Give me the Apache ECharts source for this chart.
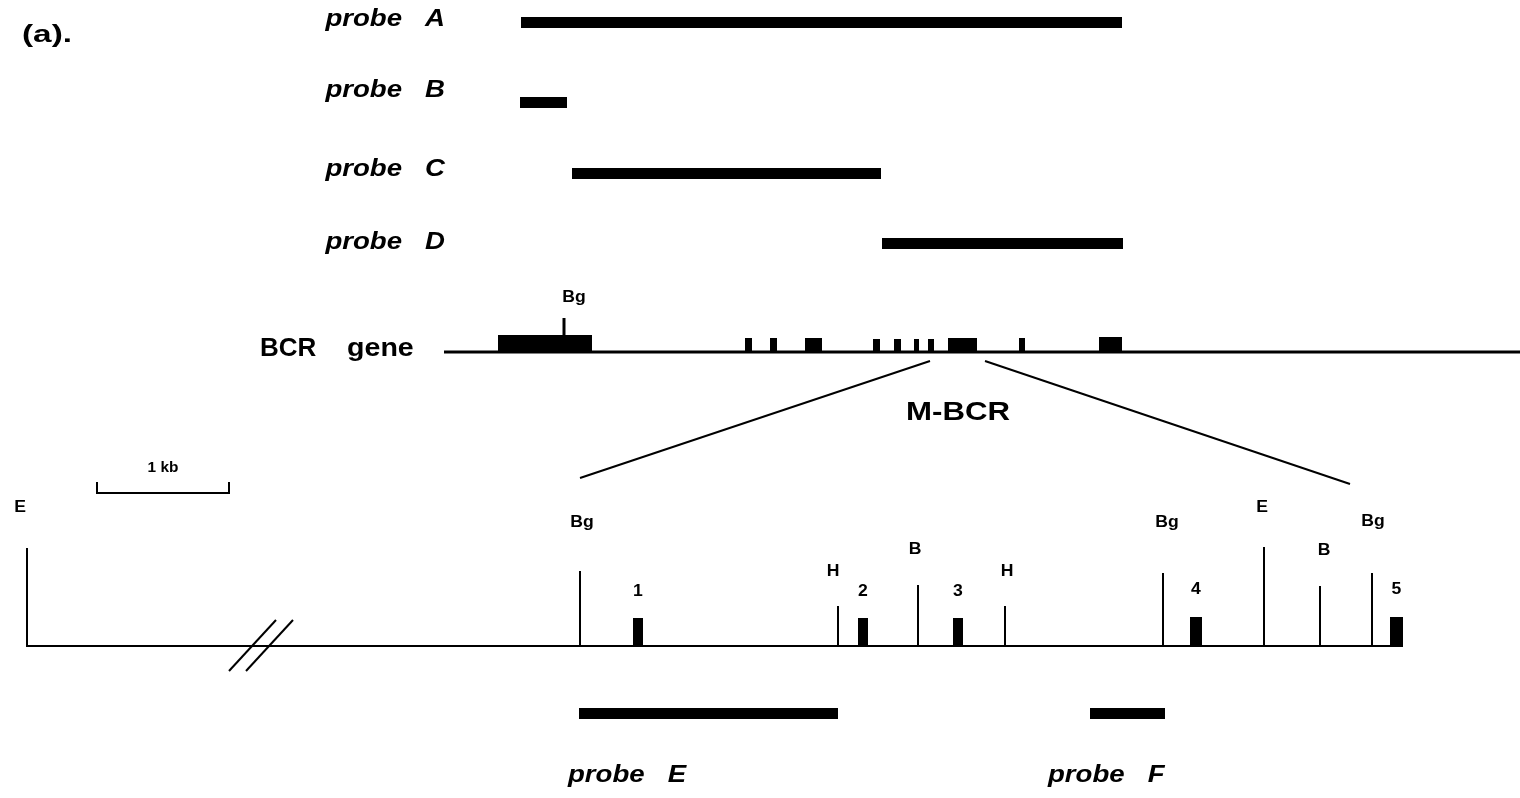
<!DOCTYPE html>
<html>
<head>
<meta charset="utf-8">
<script src="https://cdn.jsdelivr.net/npm/echarts@6.0.0/dist/echarts.min.js"></script>
<style>
  html, body { margin: 0; padding: 0; background: #fff; }
  #chart { width: 1520px; height: 798px; }
</style>
</head>
<body>
<div id="chart"></div>
<script>
// map positions (x along the map, y = row)
const probeNames = ['probe   A', 'probe   B', 'probe   C', 'probe   D', 'probe   E', 'probe   F'];
const probeStart = [521, 520, 572, 882, 579, 1090];
const probeEnd = [1122, 567, 881, 1123, 838, 1165];
const probeRow = [22, 102, 173, 243, 713, 713];
const probeLabelX = [445, 445, 445, 445, 568, 1048];
const probeLabelY = [20, 91, 170, 243, 776, 776];
const probeLabelAlign = ['right', 'right', 'right', 'right', 'left', 'left'];

// BCR gene exons (upper map)
const geneExonStart = [498, 745, 770, 805, 873, 894, 914, 928, 948, 1019, 1099];
const geneExonEnd = [592, 752, 777, 822, 880, 901, 919, 934, 977, 1025, 1122];
const geneExonTop = [335, 338, 338, 338, 339, 339, 339, 339, 338, 338, 337];
const geneLineY = 352;

// M-BCR restriction sites (lower map)
const siteNames = ['E', 'Bg', 'H', 'B', 'H', 'Bg', 'E', 'B', 'Bg'];
const sitePos = [27, 580, 838, 918, 1005, 1163, 1264, 1320, 1372];
const siteTop = [548, 571, 606, 585, 606, 573, 547, 586, 573];
const siteLabelX = [20, 582, 833, 915, 1007, 1167, 1262, 1324, 1373];
const siteLabelY = [508, 523, 572, 550, 572, 523, 508, 551, 522];

// M-BCR exons 1-5
const exonNames = ['1', '2', '3', '4', '5'];
const exonStart = [633, 858, 953, 1190, 1390];
const exonEnd = [643, 868, 963, 1202, 1403];
const exonTop = [618, 618, 618, 617, 617];
const exonLabelY = [592, 592, 592, 590, 590];
const mapLineY = 646;

// line work: [x1, y1, x2, y2, width]
const segments = [
  [444, geneLineY, 1520, geneLineY, 3],
  [564, 318, 564, 336, 3],
  [930, 361, 580, 478, 2],
  [985, 361, 1350, 484, 2],
  [26, mapLineY, 1403, mapLineY, 2],
  [229, 671, 276, 620, 2],
  [246, 671, 293, 620, 2],
  [97, 493, 229, 493, 2],
  [97, 482, 97, 494, 2],
  [229, 482, 229, 494, 2]
];

// free text
const textLabels = ['(a).', 'BCR', 'gene', 'M-BCR', '1 kb', 'Bg'];
const textX = [22, 260, 347, 958, 163, 574];
const textY = [36, 349, 349, 413, 468, 298];
const textSize = [23, 26, 26, 26, 14, 16];
const textAlign = ['left', 'left', 'left', 'center', 'center', 'center'];
const textScale = [1.45, 1.0, 1.1, 1.2, 1.1, 1.1];

const FONT = '"Liberation Sans", Arial, Helvetica, sans-serif';
const ink = '#000';

const rectSeries = (name, x0, x1, y0, y1) => ({
  name,
  type: 'custom',
  data: x0.map((v, i) => [v, x1[i], y0[i], y1[i]]),
  renderItem: (params, api) => {
    const a = api.coord([api.value(0), api.value(2)]);
    const b = api.coord([api.value(1), api.value(3)]);
    return {
      type: 'rect',
      shape: { x: a[0], y: a[1], width: b[0] - a[0], height: b[1] - a[1] },
      style: { fill: ink }
    };
  }
});

const textSeries = (name, labels, xs, ys, opts) => ({
  name,
  type: 'custom',
  data: xs.map((v, i) => [v, ys[i]]),
  renderItem: (params, api) => {
    const i = params.dataIndex;
    const p = api.coord([api.value(0), api.value(1)]);
    return {
      type: 'text',
      x: p[0],
      y: p[1],
      scaleX: opts.scale(i),
      style: {
        text: labels[i],
        x: 0,
        y: 0,
        fill: ink,
        fontFamily: FONT,
        fontWeight: 'bold',
        fontStyle: opts.italic ? 'italic' : 'normal',
        fontSize: opts.size(i),
        align: opts.align(i),
        verticalAlign: 'middle'
      }
    };
  }
});

const chart = echarts.init(document.getElementById('chart'));

chart.setOption({
  animation: false,
  backgroundColor: '#fff',
  grid: { left: 0, right: 0, top: 0, bottom: 0 },
  xAxis: { type: 'value', min: 0, max: 1520, show: false },
  yAxis: { type: 'value', min: 0, max: 798, inverse: true, show: false },
  series: [
    {
      name: 'lines',
      type: 'custom',
      data: segments,
      renderItem: (params, api) => {
        const a = api.coord([api.value(0), api.value(1)]);
        const b = api.coord([api.value(2), api.value(3)]);
        return {
          type: 'line',
          shape: { x1: a[0], y1: a[1], x2: b[0], y2: b[1] },
          style: { stroke: ink, lineWidth: api.value(4) }
        };
      }
    },
    {
      name: 'site ticks',
      type: 'custom',
      data: sitePos.map((v, i) => [v, siteTop[i], mapLineY]),
      renderItem: (params, api) => {
        const a = api.coord([api.value(0), api.value(1)]);
        const b = api.coord([api.value(0), api.value(2)]);
        return {
          type: 'line',
          shape: { x1: a[0], y1: a[1], x2: b[0], y2: b[1] },
          style: { stroke: ink, lineWidth: 2 }
        };
      }
    },
    rectSeries('probes', probeStart, probeEnd,
      probeRow.map((y) => y - 5), probeRow.map((y) => y + 6)),
    rectSeries('gene exons', geneExonStart, geneExonEnd,
      geneExonTop, geneExonTop.map(() => geneLineY + 1)),
    rectSeries('M-BCR exons', exonStart, exonEnd,
      exonTop, exonTop.map(() => mapLineY + 1)),
    textSeries('probe labels', probeNames, probeLabelX, probeLabelY, {
      italic: true,
      size: () => 23,
      align: (i) => probeLabelAlign[i],
      scale: () => 1.2
    }),
    textSeries('site labels', siteNames, siteLabelX, siteLabelY, {
      size: () => 16,
      align: () => 'center',
      scale: () => 1.1
    }),
    textSeries('exon labels', exonNames, exonStart.map((v, i) => (v + exonEnd[i]) / 2), exonLabelY, {
      size: () => 16,
      align: () => 'center',
      scale: () => 1.1
    }),
    textSeries('text', textLabels, textX, textY, {
      size: (i) => textSize[i],
      align: (i) => textAlign[i],
      scale: (i) => textScale[i]
    })
  ]
});
</script>
</body>
</html>
